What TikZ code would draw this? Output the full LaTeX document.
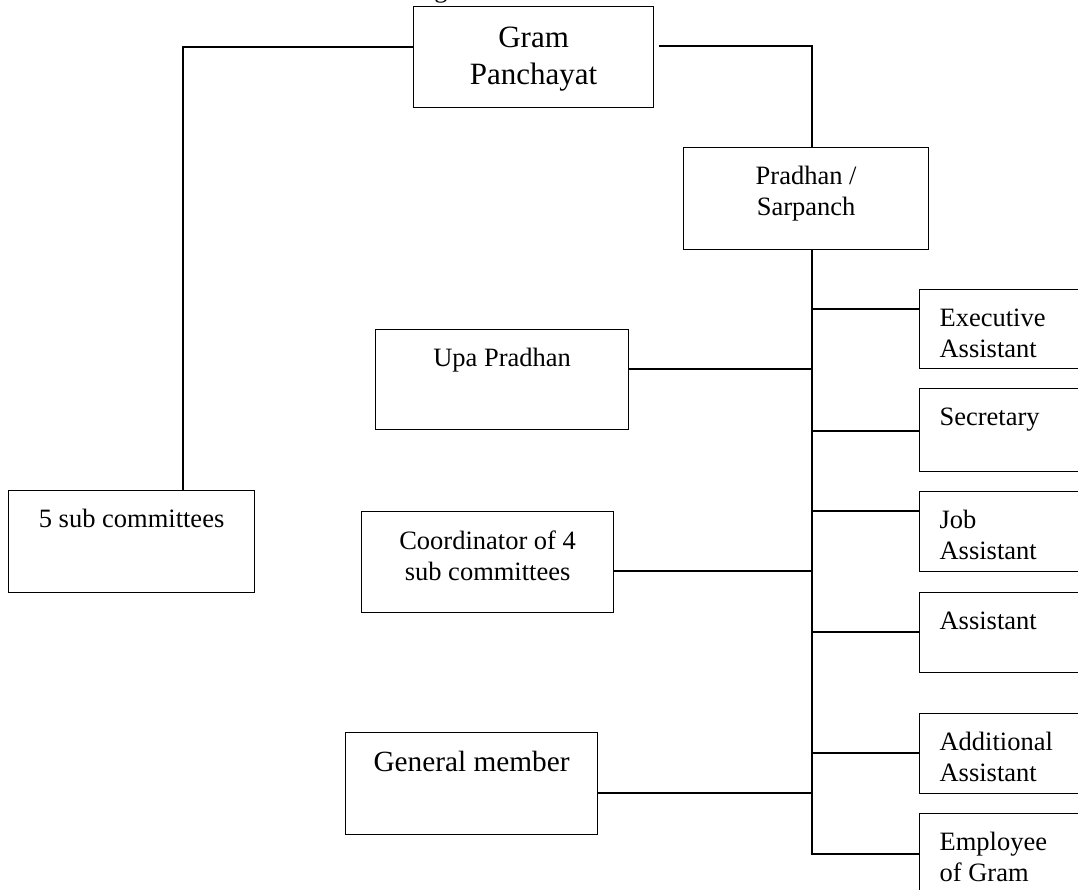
\documentclass[tikz,border=0pt]{standalone}
\usepackage{fontspec}
\setmainfont{Liberation Serif}
\newcommand\cbox[4]{\parbox[c][#2pt][t]{#1pt}{\centering\rule{0pt}{#3pt}#4}}
\newcommand\lbox[2]{\parbox[c][#1pt][t]{200pt}{\raggedright\leftskip=20pt\rule{0pt}{37pt}#2}}
\begin{document}
\begin{tikzpicture}[x=1pt,y=-1pt,
  box/.style={draw, line width=1.2pt, inner sep=0pt, anchor=north west,
    font=\fontsize{26.5pt}{31pt}\selectfont},
  conn/.style={line width=1.2pt}]
\useasboundingbox (0,0) rectangle (1078,890);
\clip (0,0) rectangle (1078,890);
\fill[white] (0,0) rectangle (1078,890);

\node[anchor=base, inner sep=0pt, font=\fontsize{26.5pt}{31pt}\selectfont] (gfrag) at (441,-2) {g};

\node[box, font=\fontsize{31pt}{37pt}\selectfont] (gp) at (413,6) {\cbox{240}{101}{41}{Gram\\Panchayat}};
\node[box] (pr) at (683,147) {\cbox{245}{102}{37}{Pradhan /\\Sarpanch}};
\node[box] (up) at (375,329) {\cbox{253}{100}{37}{Upa Pradhan}};
\node[box] (co) at (361,511) {\cbox{252}{101}{38}{Coordinator of 4\\sub committees}};
\node[box, font=\fontsize{29.3pt}{34pt}\selectfont] (gm) at (345,732) {\cbox{252}{102}{39}{General member}};
\node[box] (sc) at (8,490) {\cbox{246}{102}{37}{5 sub committees}};

\node[box] (ea) at (919,289) {\lbox{79}{Executive\\Assistant}};
\node[box] (se) at (919,388) {\lbox{83}{Secretary}};
\node[box] (ja) at (919,491) {\lbox{80}{Job\\Assistant}};
\node[box] (as) at (919,592) {\lbox{80}{Assistant}};
\node[box] (aa) at (919,713) {\lbox{80}{Additional\\Assistant}};
\node[box] (eg) at (919,813) {\lbox{100}{Employee\\of Gram}};

\coordinate (j1) at (183,47);
\coordinate (j2) at (812,46);
\coordinate (sp) at (812,854);
\draw[conn] (gp.west |- j1) -- (j1) -- (sc.north -| j1);
\draw[conn] ([xshift=5pt]gp.east |- j2) -- (j2) -- (pr.north -| j2);
\draw[conn] (pr.south -| sp) -- (sp) -- (eg.west |- sp);

\coordinate (b1) at (812,309);
\coordinate (b2) at (812,431);
\coordinate (b3) at (812,511);
\coordinate (b4) at (812,632);
\coordinate (b5) at (812,753);
\draw[conn] (b1) -- (ea.west |- b1);
\draw[conn] (b2) -- (se.west |- b2);
\draw[conn] (b3) -- (ja.west |- b3);
\draw[conn] (b4) -- (as.west |- b4);
\draw[conn] (b5) -- (aa.west |- b5);

\coordinate (s1) at (812,369);
\coordinate (s2) at (812,571);
\coordinate (s3) at (812,793);
\draw[conn] (s1) -- (up.east |- s1);
\draw[conn] (s2) -- (co.east |- s2);
\draw[conn] (s3) -- (gm.east |- s3);
\end{tikzpicture}
\end{document}
